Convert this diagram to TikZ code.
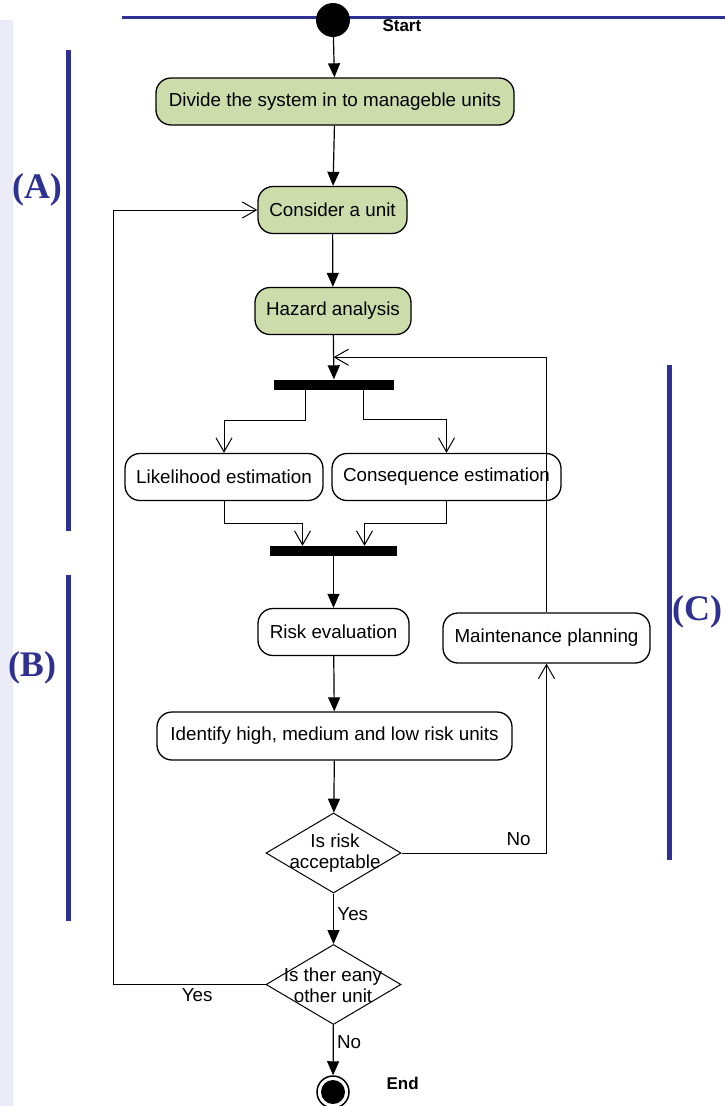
\documentclass[tikz,border=0pt]{standalone}
\usepackage{fontspec}
\setmainfont{Liberation Sans}
\newfontfamily\labelserif{Liberation Serif}
\usetikzlibrary{arrows.meta,shapes.geometric,calc}
\definecolor{bandblue}{RGB}{46,49,146}
\definecolor{actgreen}{RGB}{204,220,170}
\definecolor{stripfill}{RGB}{236,236,248}
\begin{document}
\begin{tikzpicture}[x=1pt,y=-1pt,
  txt/.style={font=\fontsize{18.8}{21}\selectfont},
  act/.style={txt,draw,line width=1.3pt,rounded corners=15pt,inner sep=0pt,minimum height=47pt,align=center},
  green act/.style={act,fill=actgreen},
  bar/.style={fill=black,inner sep=0pt,minimum height=10pt},
  decision/.style={diamond,draw,line width=1pt,inner sep=0pt,minimum width=135pt,minimum height=80pt},
  flow/.style={line width=1.2pt,-{Triangle[length=14pt,width=12pt]}},
  back/.style={line width=1pt,-{Straight Barb[length=14pt,width=16pt,line width=1pt]}},
  band/.style={line width=5pt,bandblue},
  bandlabel/.style={font=\labelserif\bfseries\fontsize{36}{40}\selectfont,text=bandblue},
  term/.style={font=\bfseries\fontsize{17}{20}\selectfont}]
\useasboundingbox (0,0) rectangle (725,1106);

% dotted margin strip and heading rule
\fill[stripfill] (0,20) rectangle (13,1106);
\draw[line width=3pt,bandblue] (122,17.5) -- (725,17.5);

% phase bands
\draw[band] (68,50) -- (68,531);
\draw[band] (68,575) -- (68,921);
\draw[band] (669,365) -- (669,860);
\node[bandlabel] (la) at (37,190) {(A)};
\node[bandlabel] (lb) at (32,668) {(B)};
\node[bandlabel] (lc) at (697,612) {(C)};

% start
\node[circle,fill=black,inner sep=0pt,minimum size=34pt] (start) at (333,20) {};
\node[term,anchor=west] (startlbl) at (379,26) {Start};

% activities
\node[green act,minimum width=358pt] (divide) at (335,101.5) {\raisebox{-1pt}{Divide the system in to manageble units}};
\node[green act,minimum width=149pt] (unit) at (332.5,210) {\raisebox{-1pt}{Consider a unit}};
\node[green act,minimum width=156pt] (hazard) at (333,311) {\raisebox{-1pt}{Hazard analysis}};
\node[bar,minimum width=120pt] (fork) at (334,384.5) {};
\node[act,minimum width=198pt] (like) at (224,477) {Likelihood estimation};
\node[act,minimum width=229pt] (cons) at (446.5,477) {Consequence estimation};
\node[bar,minimum width=127pt] (join) at (333.5,551) {};
\node[act,minimum width=151pt] (risk) at (333.5,632) {\raisebox{-1pt}{Risk evaluation}};
\node[act,minimum width=207pt,minimum height=50pt] (maint) at (546.5,638) {Maintenance planning};
\node[act,minimum width=355pt,minimum height=48pt] (ident) at (334.5,736) {Identify high, medium and low risk units};
\node[decision] (accept) at (333.5,853) {};
\node[txt,align=center] (accepttxt) at (335,853) {Is risk\\acceptable};
\node[decision] (other) at (333.5,984.5) {};
\node[txt,align=center] (othertxt) at (333,985) {Is ther eany\\other unit};

% end
\node[circle,draw,line width=1.5pt,fill=white,inner sep=0pt,minimum size=32pt] (finish) at (333,1092) {};
\node[circle,fill=black,inner sep=0pt,minimum size=24pt] (finishdot) at (finish.center) {};
\node[term,anchor=west] (endlbl) at (383,1083) {End};

\coordinate (merge) at ($(hazard.south)!0.5!(fork.north)$);

% main flow
\draw[flow] (start) -- (divide);
\draw[flow] (divide) -- (unit);
\draw[flow] (unit) -- (hazard);
\draw[flow] (hazard) -- (fork);
\draw[back] ([xshift=-29pt]fork.south) -- ++(0,31) -| (like.north);
\draw[back] ([xshift=29pt]fork.south) -- ++(0,30) -| (cons.north);
\draw[back] (like.south) -- ++(0,22) -| ([xshift=-31pt]join.north);
\draw[back] (cons.south) -- ++(0,22) -| ([xshift=31pt]join.north);
\draw[flow] (join) -- (risk);
\draw[flow] (risk) -- (ident);
\draw[flow] (ident) -- (accept);
\draw[flow] (accept) -- node[txt,right,pos=0.4] {Yes} (other);
\draw[flow] (other) -- node[txt,right,pos=0.35] {No} (finish);

% loops
\draw[back] (accept.east) -| node[txt,pos=0.5,anchor=south east,xshift=-12pt,yshift=3pt] {No} (maint.south);
\draw[back] (maint.north) |- (merge);
\draw[back] (other.west) -- node[txt,below,pos=0.45] {Yes} ++(-152,0) |- (unit.west);
\end{tikzpicture}
\end{document}
